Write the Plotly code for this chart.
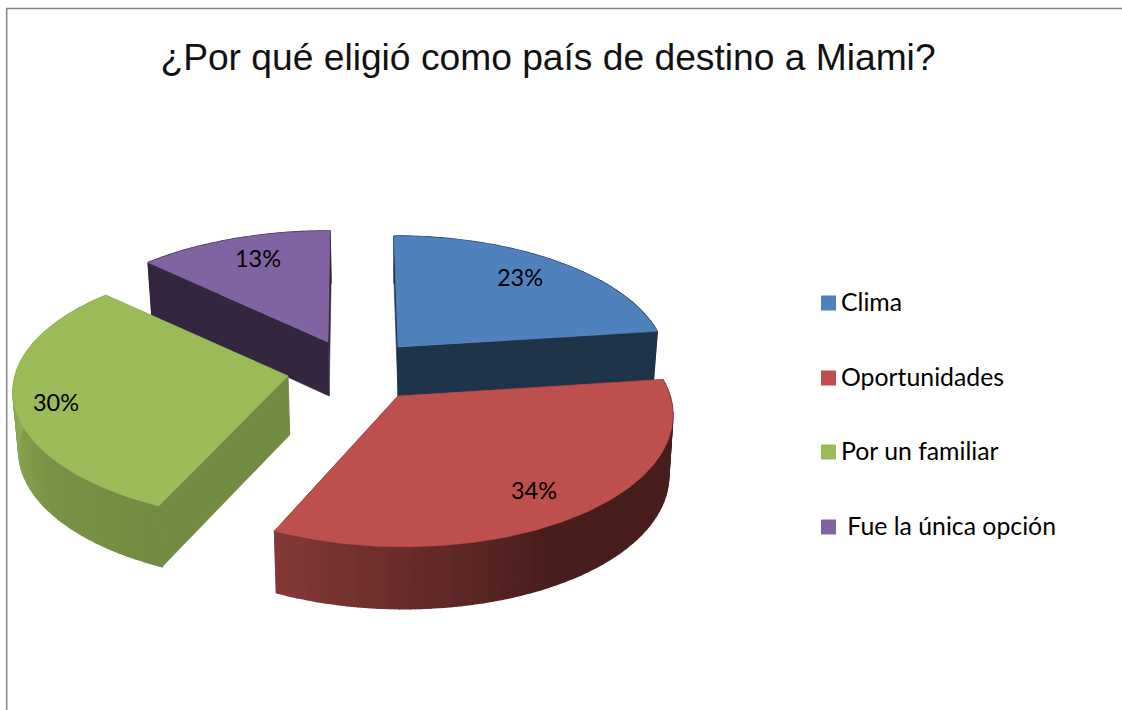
import numpy as np
import plotly.graph_objects as go

# ---- data ----
categories = ["Clima", "Oportunidades", "Por un familiar", "Fue la única opción"]
values = [23, 34, 30, 13]
legend_labels = ["Clima", "Oportunidades", "Por un familiar", "\u00a0Fue la única opción"]
title_text = "¿Por qué eligió como país de destino a Miami?"

# ---- styles ----
top_colors = ["#4f81bd", "#bd4f4c", "#9bbb59", "#8064a2"]
cut_colors = ["#1f3349", "#4e1f1d", "#728b42", "#352640"]
PERSP = 0.125          # front of the pie looks larger than the back
VANISH_X = 400         # side walls converge slightly to this x
# apex x, apex y, semi-axis a, semi-axis b, lean, wall depth per slice
geom = [
    dict(cx=398, cy=347, a=266, b=127, lean=-4, depth=49),
    dict(cx=398, cy=396, a=272, b=134, lean=-6, depth=60),
    dict(cx=288, cy=376, a=273, b=129, lean=0, depth=59),
    dict(cx=328, cy=342, a=272, b=127, lean=2, depth=54),
]
label_xy = [(520, 280.5), (534, 493.5), (56, 405.5), (258, 261)]
legend_x, legend_text_x = 828.5, 841
legend_y = [303, 378, 452, 527]
legend_text_y = [305, 380, 454, 529]
# wall shading: angle (deg) -> rgb stops for the curved walls
wall_shades = {
    0: ([0, 360], [(31, 51, 73), (31, 51, 73)]),
    1: ([80, 150, 205], [(72, 30, 28), (72, 30, 28), (133, 57, 55)]),
    2: ([205, 235, 270, 320], [(114, 139, 66), (122, 148, 70), (143, 170, 85), (143, 170, 85)]),
    3: ([0, 360], [(53, 38, 64), (53, 38, 64)]),
}

# ---- angles from values ----
cum = np.cumsum([0] + values) / sum(values) * 360.0


def top(g, deg):
    t = np.radians(deg)
    s = 1 - PERSP * np.cos(t)
    return (g["cx"] + g["a"] * np.sin(t) * s + g["lean"] * np.cos(t),
            g["cy"] - g["b"] * np.cos(t) * s)


def drop(g, x, y, v=0.0):
    return x + (VANISH_X - x) * 0.015, y + g["depth"] + 2 * v


def poly(xs, ys, color, lw=0.6):
    return go.Scatter(x=list(xs), y=list(ys), mode="lines", fill="toself", fillcolor=color,
                      line=dict(color=color, width=lw), hoverinfo="skip", showlegend=False)


fig = go.Figure()

for i in [3, 0, 2, 1]:           # back slices first
    g = geom[i]
    a0, a1 = cum[i], cum[i + 1]
    apex = (g["cx"], g["cy"])
    apex_b = drop(g, *apex)

    # flat cut walls
    for ang in (a0, a1):
        rx, ry = top(g, ang)
        bx, by = drop(g, rx, ry, -np.cos(np.radians(ang)))
        fig.add_trace(poly([apex[0], rx, bx, apex_b[0], apex[0]],
                           [apex[1], ry, by, apex_b[1], apex[1]], cut_colors[i]))

    # curved wall, in thin shaded strips that overlap a little
    stops, cols = wall_shades[i]
    arr = np.array(cols, dtype=float)
    edges = np.arange(a0, a1 + 2, 2.0)
    edges[-1] = a1
    for e0, e1 in zip(edges[:-1], edges[1:]):
        if e1 <= e0:
            continue
        x0, y0 = top(g, e0)
        x1, y1 = top(g, e1)
        bx0, by0 = drop(g, x0, y0, -np.cos(np.radians(e0)))
        bx1, by1 = drop(g, x1, y1, -np.cos(np.radians(e1)))
        m = (e0 + e1) / 2
        c = [int(np.interp(m, stops, arr[:, k])) for k in range(3)]
        fig.add_trace(poly([x0, x1, bx1, bx0, x0], [y0, y1, by1, by0, y0],
                           f"rgb({c[0]},{c[1]},{c[2]})", lw=1.4))

    # top surface
    arc = np.linspace(a0, a1, 120)
    ax, ay = top(g, arc)
    fig.add_trace(poly([apex[0], *ax, apex[0]], [apex[1], *ay, apex[1]], top_colors[i]))

# percentage labels
for i, (v, (lx, ly)) in enumerate(zip(values, label_xy)):
    fig.add_trace(go.Scatter(x=[lx], y=[ly], mode="text", text=[f"{v}%"],
                             textfont=dict(family="Lato", size=23.5, color="#000000"),
                             textposition="middle center", showlegend=False,
                             hovertext=[categories[i]], hoverinfo="text"))

# legend entries
for i, lab in enumerate(legend_labels):
    fig.add_trace(go.Scatter(x=[legend_x], y=[legend_y[i]], mode="markers",
                             marker=dict(symbol="square", size=15, color=top_colors[i]),
                             showlegend=False, hovertext=[categories[i]], hoverinfo="text"))
    fig.add_trace(go.Scatter(x=[legend_text_x], y=[legend_text_y[i]], mode="text", text=[lab],
                             textposition="middle right",
                             textfont=dict(family="Lato", size=24.8, color="#000000"),
                             showlegend=False, hoverinfo="skip"))

fig.update_layout(
    width=1122, height=710, margin=dict(l=0, r=0, t=0, b=0),
    autosize=False,
    paper_bgcolor="white", plot_bgcolor="white",
    xaxis=dict(range=[0, 1122], visible=False, fixedrange=True),
    yaxis=dict(range=[710, 0], visible=False, fixedrange=True),
    title=dict(text=title_text, x=548 / 1122, xanchor="center", y=1 - 57 / 710, yanchor="middle",
               font=dict(family="Liberation Sans", size=37.2, color="#111111")),
    shapes=[
        dict(type="line", xref="x", yref="y", x0=6.7, x1=6.7, y0=8, y1=710,
             line=dict(color="#868686", width=1.5)),
        dict(type="line", xref="x", yref="y", x0=6, x1=1122, y0=8.5, y1=8.5,
             line=dict(color="#868686", width=1.5)),
    ],
)
fig.write_html("out.html", config={"displayModeBar": False},
               post_script="document.body.style.margin='0';document.body.style.overflow='hidden';")
